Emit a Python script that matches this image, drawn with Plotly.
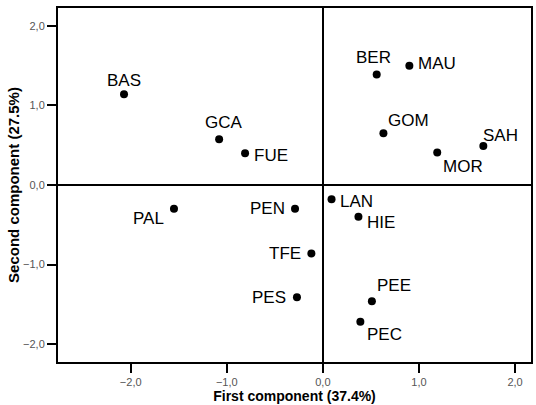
import plotly.graph_objects as go

# Component scores for each site
sites = ["BAS", "GCA", "FUE", "BER", "MAU", "GOM", "MOR", "SAH", "LAN",
         "PAL", "PEN", "HIE", "TFE", "PES", "PEE", "PEC"]
comp1 = [-2.07, -1.08, -0.81, 0.56, 0.90, 0.63, 1.19, 1.67, 0.09,
         -1.55, -0.29, 0.37, -0.12, -0.27, 0.51, 0.39]
comp2 = [1.14, 0.575, 0.40, 1.39, 1.50, 0.65, 0.41, 0.49, -0.18,
         -0.30, -0.30, -0.40, -0.86, -1.41, -1.46, -1.72]

tick_vals = [-2.0, -1.0, 0.0, 1.0, 2.0]

# label offsets in pixels (dx, dy, xanchor)
label_offsets = {
    "BAS": (0, 14, "center"), "GCA": (5, 17, "center"), "FUE": (7, -2, "left"),
    "BER": (-3, 17, "center"), "MAU": (7, 2, "left"), "GOM": (3, 13, "left"),
    "MOR": (4, -14, "left"), "SAH": (-2, 11, "left"), "LAN": (6, -2, "left"),
    "PAL": (-8, -10, "right"), "PEN": (-8, 0, "right"), "HIE": (7, -6, "left"),
    "TFE": (-8, 0, "right"), "PES": (-9, 0, "right"), "PEE": (3, 16, "left"),
    "PEC": (5, -13, "left"),
}

fig = go.Figure()
fig.add_trace(go.Scatter(
    x=comp1, y=comp2, mode="markers",
    marker=dict(symbol="circle", size=8, color="black", line=dict(width=0)),
    hoverinfo="skip", showlegend=False,
))

for name, xv, yv in zip(sites, comp1, comp2):
    dx, dy, xa = label_offsets[name]
    fig.add_annotation(
        x=xv, y=yv, text=name, showarrow=False,
        xshift=dx, yshift=dy, xanchor=xa, yanchor="middle",
        font=dict(family="Liberation Sans, Arial", size=17, color="black"),
    )

axis_common = dict(
    tickvals=tick_vals, tickformat=".1f",
    ticks="outside", ticklen=9, tickwidth=2, tickcolor="black",
    showline=True, linecolor="black", linewidth=2, mirror=True,
    showgrid=False, zeroline=True, zerolinecolor="black", zerolinewidth=2,
    tickfont=dict(family="Liberation Sans, Arial", size=11, color="#555555"),
)

fig.update_layout(
    width=536, height=405,
    margin=dict(l=58, r=3, t=8, b=41),
    plot_bgcolor="white", paper_bgcolor="white",
    separators=",.",
    xaxis=dict(range=[-2.757, 2.166],
               title=dict(text="<b>First component (37.4%)</b>", standoff=4,
                          font=dict(family="Liberation Sans, Arial", size=14, color="black")),
               **axis_common),
    yaxis=dict(range=[-2.225, 2.225],
               title=dict(text="<b>Second component (27.5%)</b>", standoff=0,
                          font=dict(family="Liberation Sans, Arial", size=15, color="black")),
               **axis_common),
)

fig.write_html("out.html")
